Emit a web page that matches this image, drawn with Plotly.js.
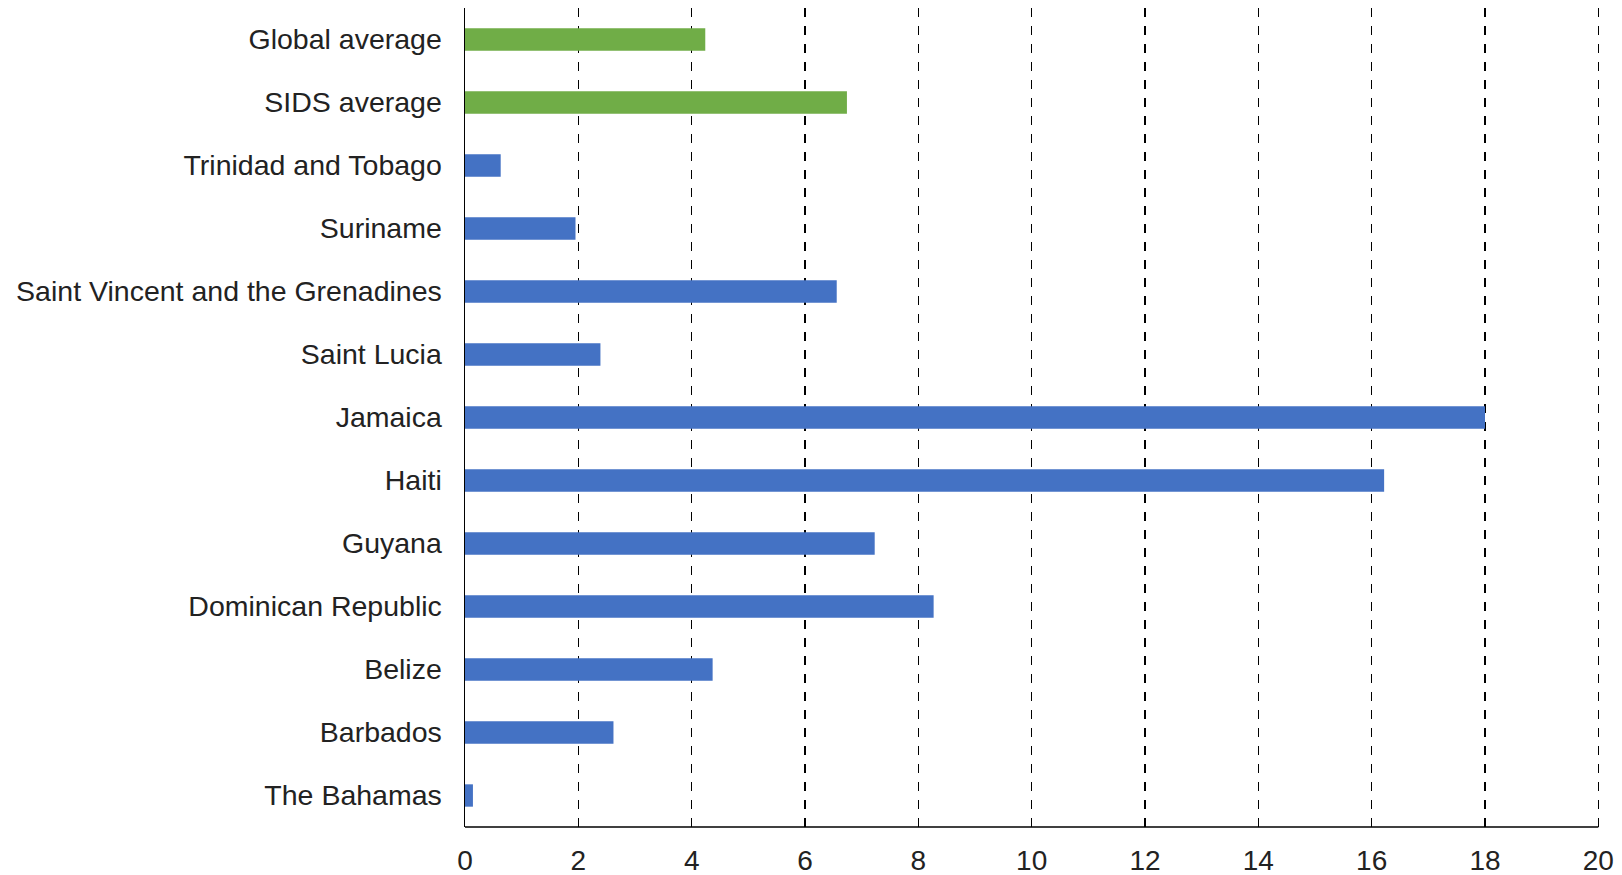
<!DOCTYPE html>
<html>
<head>
<meta charset="utf-8">
<script src="https://cdn.plot.ly/plotly-3.0.1.min.js"></script>
<style>html,body{margin:0;padding:0;background:#fff;}#chart{width:1622px;height:875px;}</style>
</head>
<body>
<div id="chart"></div>
<script>
// Categories listed top to bottom
const categories = [
  "Global average",
  "SIDS average",
  "Trinidad and Tobago",
  "Suriname",
  "Saint Vincent and the Grenadines",
  "Saint Lucia",
  "Jamaica",
  "Haiti",
  "Guyana",
  "Dominican Republic",
  "Belize",
  "Barbados",
  "The Bahamas"
];
const values = [4.24, 6.74, 0.63, 1.95, 6.56, 2.39, 18.0, 16.22, 7.23, 8.27, 4.37, 2.62, 0.14];
const isAverage = [true, true, false, false, false, false, false, false, false, false, false, false, false];
const xTicks = [0, 2, 4, 6, 8, 10, 12, 14, 16, 18, 20];

const GREEN = "#70AD47";
const BLUE = "#4472C4";

const trace = {
  type: "bar",
  orientation: "h",
  y: categories,
  x: values,
  width: 0.355,
  marker: { color: isAverage.map(a => a ? GREEN : BLUE) },
  hoverinfo: "x+y"
};

const layout = {
  width: 1622,
  height: 875,
  margin: { l: 465, r: 18, t: 8, b: 48, pad: 0 },
  paper_bgcolor: "#ffffff",
  plot_bgcolor: "#ffffff",
  showlegend: false,
  font: { family: "Liberation Sans, Arial, sans-serif", size: 28, color: "#222222" },
  xaxis: {
    range: [0, 20.1],
    tickvals: xTicks,
    ticktext: xTicks.map(String),
    showgrid: true,
    gridcolor: "#000000",
    gridwidth: 1.2,
    griddash: "dash",
    zeroline: false,
    showline: false,
    ticks: "",
    ticklabelstandoff: 14,
    tickfont: { size: 28, color: "#222222" },
    fixedrange: true
  },
  yaxis: {
    autorange: "reversed",
    type: "category",
    showgrid: false,
    zeroline: false,
    showline: true,
    linecolor: "#000000",
    linewidth: 1.5,
    ticks: "",
    ticklabelstandoff: 16,
    tickfont: { size: 28.5, color: "#222222" },
    fixedrange: true
  },
  shapes: [{
    type: "line",
    xref: "x", yref: "paper",
    x0: xTicks[0], x1: xTicks[xTicks.length - 1],
    y0: 0, y1: 0,
    line: { color: "#000000", width: 1.5 }
  }]
};

Plotly.newPlot("chart", [trace], layout, { displayModeBar: false, staticPlot: true });
</script>
</body>
</html>
